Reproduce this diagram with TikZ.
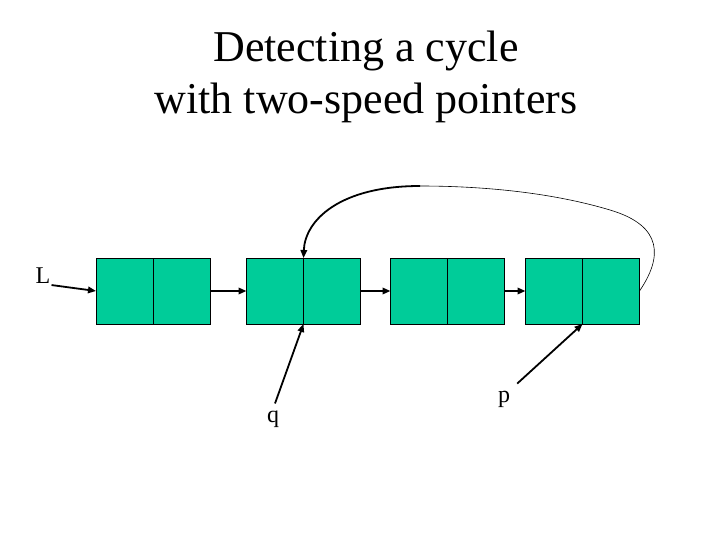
\documentclass[tikz,border=0pt]{standalone}
\usepackage{fontspec}
\setmainfont{Liberation Serif}
\usepackage{xcolor}
\usetikzlibrary{arrows.meta,positioning}
\definecolor{cellgreen}{RGB}{0,204,153}

\begin{document}
\begin{tikzpicture}[
  x=1pt, y=-1pt,
  cell/.style={draw, line width=0.8pt, fill=cellgreen, minimum width=57pt, minimum height=66pt, inner sep=0pt, outer sep=0pt},
  lbl/.style={font=\fontsize{24}{28}\selectfont, inner sep=1pt},
  arrow/.style={-{Triangle[length=8pt,width=6.5pt]}, line width=1.8pt},
  thin loop/.style={line width=0.6pt}
]
\useasboundingbox (0,0) rectangle (720,540);
% title
\node[align=center, font=\fontsize{44}{52}\selectfont] (title) at (366,77) {Detecting a cycle\\with two-speed pointers};
% list cells
\node[cell] (n1a) at (124.5,291) {};
\node[cell, right=0pt of n1a] (n1b) {};
\node[cell] (n2a) at (275,291) {};
\node[cell, right=0pt of n2a] (n2b) {};
\node[cell] (n3a) at (419,291) {};
\node[cell, right=0pt of n3a] (n3b) {};
\node[cell] (n4a) at (554,291) {};
\node[cell, right=0pt of n4a] (n4b) {};
% labels
\node[lbl] (L) at (43,276) {L};
\node[lbl] (q) at (273,419) {q};
\node[lbl] (p) at (504,399) {p};
\coordinate (top) at (420,186);
% links
\draw[arrow] (L.south east) -- (n1a.west);
\draw[arrow] (n1b.east) -- (n2a.west);
\draw[arrow] (n2b.east) -- (n3a.west);
\draw[arrow] (n3b.east) -- (n4a.west);
\draw[arrow] (q.north) ++(2,-6) -- (n2a.south east);
\draw[arrow] (p.north east) ++(6,-6) -- (n4a.south east);
% cycle back
\draw[thin loop] (n4b.east) .. controls (662,258) and (664,226) .. (610,210) .. controls (550,192) and (480,186) .. (top);
\draw[arrow] (top) .. controls (340,186) and (305,220) .. (n2a.north east);
\end{tikzpicture}
\end{document}
